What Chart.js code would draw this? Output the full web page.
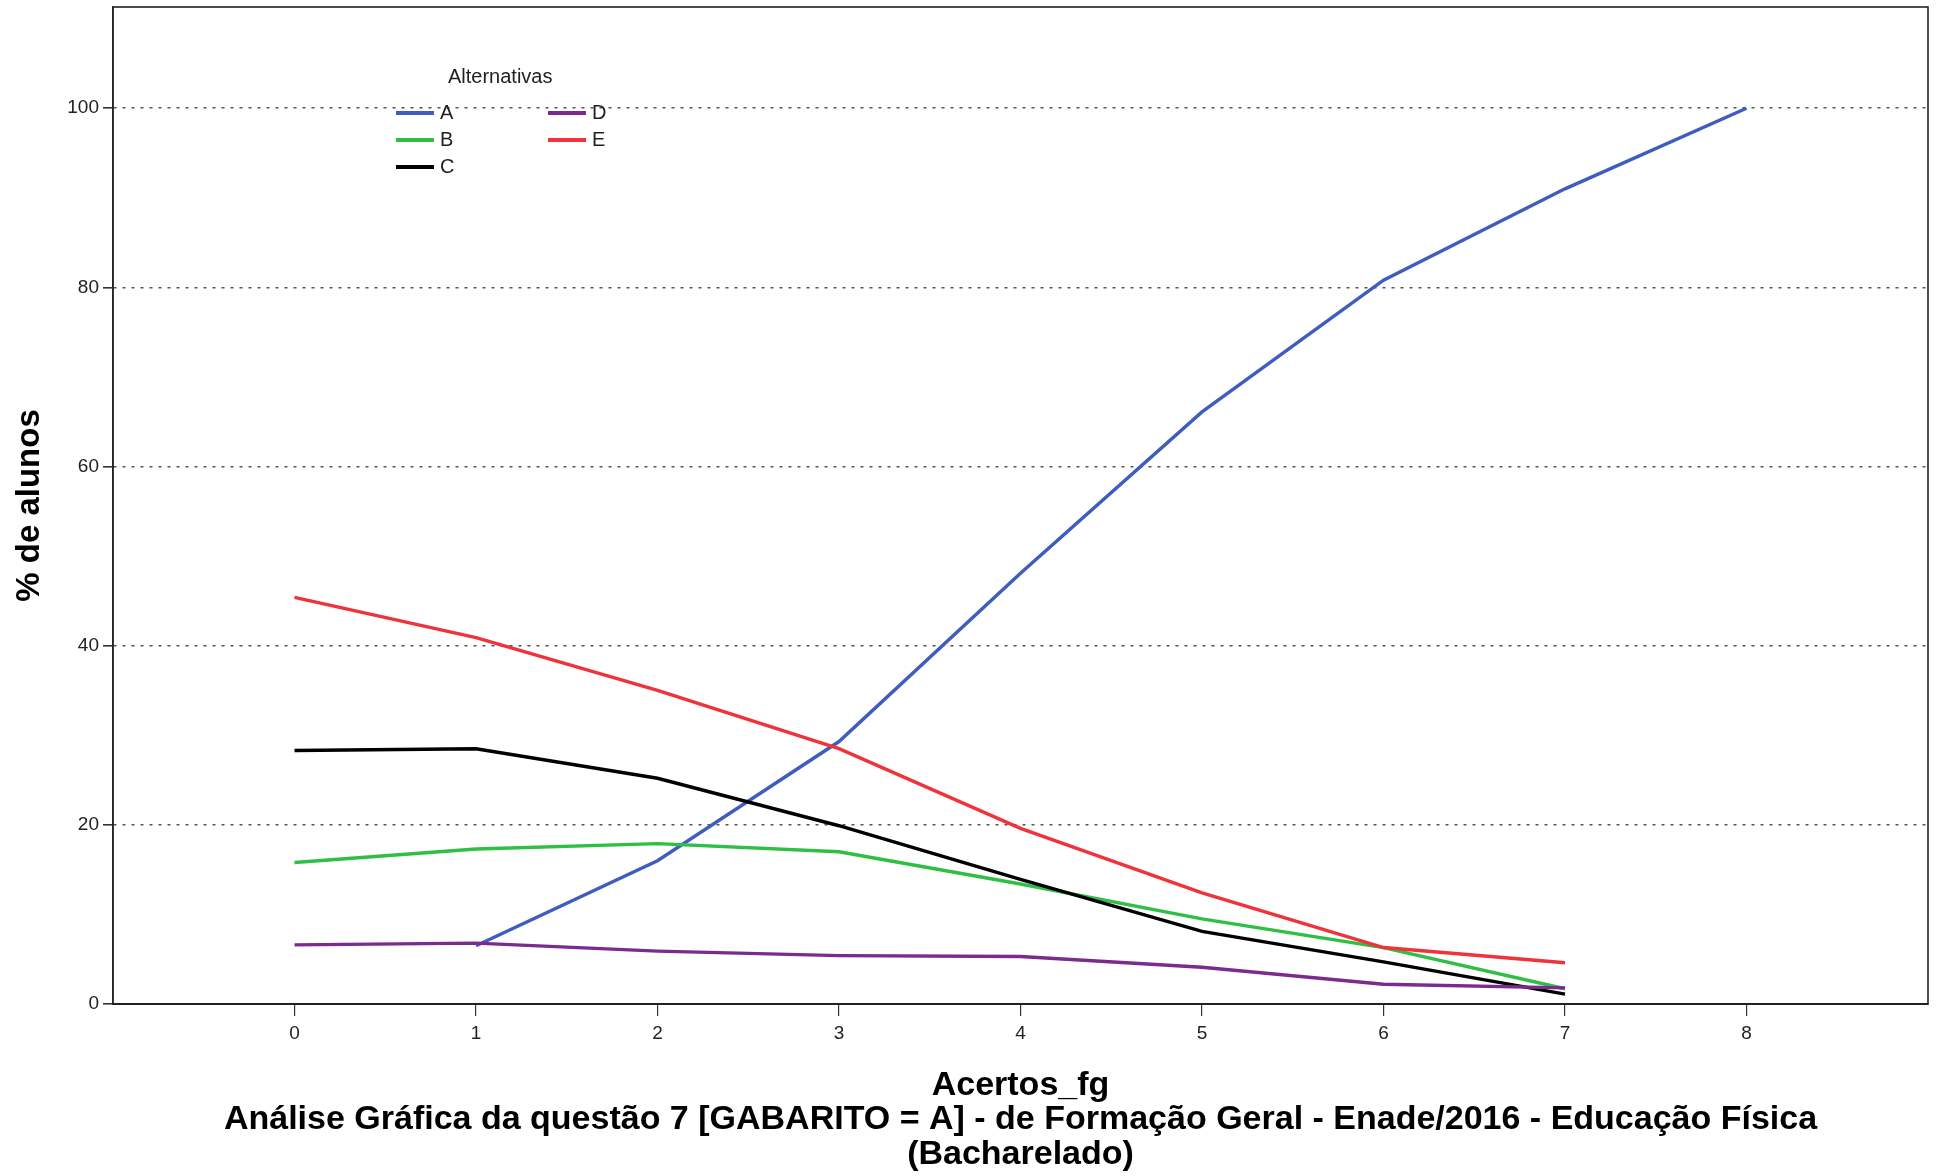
<!DOCTYPE html>
<html>
<head>
<meta charset="utf-8">
<script src="https://cdn.jsdelivr.net/npm/chart.js@4"></script>
<style>
  html,body{margin:0;padding:0;background:#fff;}
  #wrap{position:relative;width:1942px;height:1176px;}
  #legend{position:absolute;left:396px;top:65px;font-family:'Liberation Sans',Arial,sans-serif;font-size:20px;color:#222;}
  #legend .ttl{position:absolute;left:52px;top:0;white-space:nowrap;font-size:20px;}
  #legend .it{position:absolute;white-space:nowrap;display:flex;align-items:center;}
  #legend .sw{display:inline-block;width:38px;height:4px;margin-right:6px;}
</style>
</head>
<body>
<div id="wrap">
<canvas id="c" width="1942" height="1176"></canvas>
<div id="legend"></div>
</div>
<script>
const categories = [0, 1, 2, 3, 4, 5, 6, 7, 8];
const seriesNames = ['A', 'B', 'C', 'D', 'E'];
const seriesColors = ['#3f5cbf', '#2fbf44', '#000000', '#7b2a8e', '#f0323a'];
const valuesA = [null, 6.5, 16.0, 29.3, 48.1, 66.1, 80.8, 91.0, 100];
const valuesB = [15.8, 17.3, 17.9, 17.0, 13.4, 9.5, 6.3, 1.7, null];
const valuesC = [28.3, 28.5, 25.2, 19.9, 13.9, 8.1, 4.7, 1.1, null];
const valuesD = [6.6, 6.8, 5.9, 5.4, 5.3, 4.1, 2.2, 1.8, null];
const valuesE = [45.4, 40.9, 35.0, 28.5, 19.6, 12.4, 6.3, 4.6, null];
const yTickValues = [0, 20, 40, 60, 80, 100];
const xTickValues = [0, 1, 2, 3, 4, 5, 6, 7, 8];
const xTitle = 'Acertos_fg';
const yTitle = '% de alunos';
const chartTitle = ['Análise Gráfica da questão 7 [GABARITO = A] - de Formação Geral - Enade/2016 - Educação Física', '(Bacharelado)'];
const legendTitle = 'Alternativas';

const allValues = [valuesA, valuesB, valuesC, valuesD, valuesE];
const FONT = "'Liberation Sans',Arial,sans-serif";

const datasets = allValues.map((vals, i) => ({
  label: seriesNames[i],
  data: categories.map((c, j) => ({x: c, y: vals[j]})),
  borderColor: seriesColors[i],
  backgroundColor: seriesColors[i],
  borderWidth: 3.4,
  pointRadius: 0,
  tension: 0,
  spanGaps: false,
  order: 5 - i
}));

const framePlugin = {
  id: 'frame',
  afterDraw(chart) {
    const a = chart.chartArea, ctx = chart.ctx;
    ctx.save();
    ctx.strokeStyle = '#222';
    ctx.lineWidth = 1.6;
    ctx.strokeRect(a.left, a.top, a.right - a.left, a.bottom - a.top);
    ctx.restore();
  }
};

new Chart(document.getElementById('c'), {
  type: 'line',
  data: { datasets },
  plugins: [framePlugin],
  options: {
    responsive: false,
    animation: false,
    layout: { padding: { left: 0, right: 14, top: 7, bottom: 4 } },
    plugins: {
      legend: { display: false },
      tooltip: { enabled: false },
      title: { display: false }
    },
    scales: {
      x: {
        type: 'linear',
        min: -1, max: 9,
        afterBuildTicks: (ax) => { ax.ticks = xTickValues.map(v => ({value: v})); },
        afterFit: (ax) => { ax.height = 168; },
        ticks: { color: '#222', font: { family: FONT, size: 19 }, padding: 6, maxRotation: 0, autoSkip: false },
        grid: { drawOnChartArea: false, drawTicks: true, tickLength: 12, color: '#333', lineWidth: 1.2 },
        border: { display: true, color: '#222', width: 2 },
        title: { display: true, text: [xTitle].concat(chartTitle), color: '#000', font: { family: FONT, size: 34, weight: 'bold', lineHeight: 1.02 }, padding: { top: 0, bottom: 0 } }
      },
      y: {
        min: 0, max: 111.3,
        afterBuildTicks: (ax) => { ax.ticks = yTickValues.map(v => ({value: v})); },
        afterFit: (ax) => { ax.width = 113; ax.paddingTop = 0; ax.paddingBottom = 0; },
        ticks: { color: '#222', font: { family: FONT, size: 19 }, padding: 4 },
        grid: {
          drawTicks: true, tickLength: 10,
          color: (c) => c.tick && c.tick.value === 0 ? 'rgba(0,0,0,0)' : '#555',
          lineWidth: 1.6,
          tickColor: '#333',
          tickBorderDash: [],
        },
        border: { display: true, color: '#333', width: 1.5, dash: [3, 6] },
        title: { display: true, text: yTitle, color: '#000', font: { family: FONT, size: 33, weight: 'bold' }, padding: { top: 10, bottom: 0 } }
      }
    }
  }
});

// Legend overlay (built from series names and colours)
const lg = document.getElementById('legend');
const t = document.createElement('div'); t.className = 'ttl'; t.textContent = legendTitle; lg.appendChild(t);
const perCol = 3;
seriesNames.forEach((n, i) => {
  const col = Math.floor(i / perCol), row = i % perCol;
  const d = document.createElement('div'); d.className = 'it';
  d.style.left = (col * 152) + 'px';
  d.style.top = (36 + row * 27) + 'px';
  const sw = document.createElement('span'); sw.className = 'sw'; sw.style.background = seriesColors[i];
  d.appendChild(sw);
  const tx = document.createElement('span'); tx.textContent = n; d.appendChild(tx);
  lg.appendChild(d);
});
</script>
</body>
</html>
